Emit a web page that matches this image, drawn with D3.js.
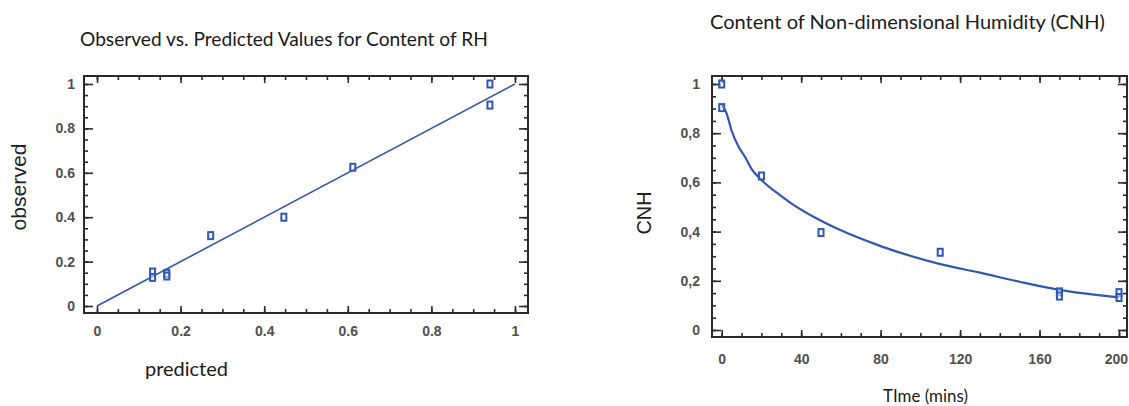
<!DOCTYPE html>
<html><head><meta charset="utf-8">
<script src="https://cdn.jsdelivr.net/npm/d3@7"></script>
<style>
html,body{margin:0;padding:0;background:#fff;}
svg{display:block;}
</style></head>
<body>
<svg id="c" width="1129" height="406"></svg>
<script>
// ---------- Left chart data: observed vs predicted ----------
const predicted = [0.94, 0.94, 0.612, 0.447, 0.272, 0.133, 0.133, 0.167, 0.167];
const observed  = [1.00, 0.905, 0.625, 0.40, 0.317, 0.153, 0.129, 0.147, 0.135];
const fitLineX = [0, 1];
const fitLineY = [0, 1];
const leftTicks = [0, 0.2, 0.4, 0.6, 0.8, 1];
const leftTickLabels = ["0", "0.2", "0.4", "0.6", "0.8", "1"];

// ---------- Right chart data: CNH vs time ----------
const timeObs = [0, 0, 20, 50, 110, 170, 170, 200, 200];
const cnhObs  = [1.00, 0.904, 0.626, 0.396, 0.316, 0.155, 0.138, 0.152, 0.132];
const curveT = [0, 2.5, 5, 8.5, 12, 15, 20, 29, 35, 50, 60, 80, 110, 130, 150, 170, 200];
const curveV = [0.915, 0.88, 0.81, 0.745, 0.70, 0.655, 0.61, 0.55, 0.515, 0.444, 0.405, 0.341, 0.268, 0.233, 0.196, 0.163, 0.133];
const rightXTicks = [0, 40, 80, 120, 160, 200];
const rightXTickLabels = ["0", "40", "80", "120", "160", "200"];
const rightYTicks = [0, 0.2, 0.4, 0.6, 0.8, 1];
const rightYTickLabels = ["0", "0,2", "0,4", "0,6", "0,8", "1"];

const W = 1129;
const svg = d3.select("#c");
const BLUE = "#2f57b3";
const FRAME = "#2a2a2a";
const TICKTXT = "#505050";
const TICKFONT = "'Liberation Sans Narrow', 'Arial Narrow', 'Liberation Sans', Arial, sans-serif";

function fitText(sel, target) {
  sel.attr("font-size", 100);
  const w = sel.node().getComputedTextLength();
  sel.attr("font-size", 100 * target / w);
}

function drawPanel(opt) {
  const g = svg.append("g");
  const x = d3.scaleLinear().domain(opt.xDom).range(opt.xRange);
  const y = d3.scaleLinear().domain(opt.yDom).range(opt.yRange);
  const [fx0, fx1, fy0, fy1] = opt.frame;

  const tickAxes = [
    {ax: d3.axisBottom(x).tickValues(opt.xMinor), tr: `translate(0,${fy1})`, size: -4},
    {ax: d3.axisTop(x).tickValues(opt.xMinor), tr: `translate(0,${fy0})`, size: -4},
    {ax: d3.axisLeft(y).tickValues(opt.yMinor), tr: `translate(${fx0},0)`, size: -4},
    {ax: d3.axisRight(y).tickValues(opt.yMinor), tr: `translate(${fx1},0)`, size: -4},
    {ax: d3.axisBottom(x).tickValues(opt.xTicks), tr: `translate(0,${fy1})`, size: -7},
    {ax: d3.axisTop(x).tickValues(opt.xTicks), tr: `translate(0,${fy0})`, size: -7},
    {ax: d3.axisLeft(y).tickValues(opt.yTicks), tr: `translate(${fx0},0)`, size: -9},
    {ax: d3.axisRight(y).tickValues(opt.yTicks), tr: `translate(${fx1},0)`, size: -9},
  ];
  tickAxes.forEach(m => {
    const a = g.append("g").attr("transform", m.tr)
      .call(m.ax.tickSize(m.size).tickFormat(""));
    a.select(".domain").remove();
    a.selectAll("line").attr("stroke", FRAME).attr("stroke-width", 1.6);
  });

  const xl = g.append("g").attr("transform", `translate(0,${opt.xLabelY})`)
    .call(d3.axisBottom(x).tickValues(opt.xTicks).tickSize(0)
      .tickFormat((d, i) => opt.xLabels[i]));
  xl.select(".domain").remove();
  xl.selectAll("text").attr("font-family", TICKFONT)
    .attr("font-size", 14).attr("fill", TICKTXT).attr("font-weight", "bold").attr("dy", 0).attr("y", 0);
  // keep labels inside the page: nudge any label that would cross the right edge
  xl.selectAll(".tick").each(function() {
    const t = d3.select(this).select("text");
    const w = t.node().getComputedTextLength();
    const tx = +d3.select(this).attr("transform").match(/translate\(([-\d.]+)/)[1];
    if (tx + w / 2 > W - 1) t.attr("x", (W - 1) - w / 2 - tx);
  });

  const yl = g.append("g").attr("transform", `translate(${opt.yLabelX},0)`)
    .call(d3.axisLeft(y).tickValues(opt.yTicks).tickSize(0)
      .tickFormat((d, i) => opt.yLabels[i]));
  yl.select(".domain").remove();
  yl.selectAll("text").attr("font-family", TICKFONT)
    .attr("font-size", 14).attr("fill", TICKTXT).attr("font-weight", "bold").attr("x", 0);

  g.append("rect").attr("x", fx0).attr("y", fy0)
    .attr("width", fx1 - fx0).attr("height", fy1 - fy0)
    .attr("fill", "none").attr("stroke", FRAME).attr("stroke-width", 2);

  return {g, x, y};
}

// ---------- Left panel ----------
const L = drawPanel({
  xDom: [0, 1], xRange: [97, 515],
  yDom: [0, 1], yRange: [306, 84],
  frame: [84, 528, 76, 313],
  xTicks: leftTicks, xLabels: leftTickLabels,
  yTicks: leftTicks, yLabels: leftTickLabels,
  xMinor: d3.range(0, 1.001, 0.05), yMinor: d3.range(0, 1.001, 0.05),
  xLabelY: 336, yLabelX: 75
});
L.g.append("path")
  .datum(fitLineX.map((v, i) => [v, fitLineY[i]]))
  .attr("d", d3.line().x(d => L.x(d[0])).y(d => L.y(d[1])))
  .attr("fill", "none").attr("stroke", BLUE).attr("stroke-width", 1.6);
L.g.selectAll("rect.pt").data(predicted.map((p, i) => [p, observed[i]]))
  .enter().append("rect").attr("class", "pt")
  .attr("x", d => L.x(d[0]) - 2.5).attr("y", d => L.y(d[1]) - 3.5)
  .attr("width", 5).attr("height", 7)
  .attr("fill", "#fff").attr("fill-opacity", 0.5)
  .attr("stroke", BLUE).attr("stroke-width", 2);

// ---------- Right panel ----------
const R = drawPanel({
  xDom: [0, 200], xRange: [721.7, 1119],
  yDom: [0, 1], yRange: [330, 84],
  frame: [712, 1127, 76, 337],
  xTicks: rightXTicks, xLabels: rightXTickLabels,
  yTicks: rightYTicks, yLabels: rightYTickLabels,
  xMinor: d3.range(0, 200.1, 10), yMinor: d3.range(0, 1.001, 0.05),
  xLabelY: 364, yLabelX: 700
});
R.g.append("path")
  .datum(curveT.map((t, i) => [t, curveV[i]]))
  .attr("d", d3.line().curve(d3.curveMonotoneX).x(d => R.x(d[0])).y(d => R.y(d[1])))
  .attr("fill", "none").attr("stroke", BLUE).attr("stroke-width", 2.2);
R.g.selectAll("rect.pt").data(timeObs.map((t, i) => [t, cnhObs[i]]))
  .enter().append("rect").attr("class", "pt")
  .attr("x", d => R.x(d[0]) - 2.5).attr("y", d => R.y(d[1]) - 3.5)
  .attr("width", 5).attr("height", 7)
  .attr("fill", "#fff").attr("fill-opacity", 0.5)
  .attr("stroke", BLUE).attr("stroke-width", 2);

// ---------- Titles and axis titles ----------
const calib = "Lato, 'Open Sans', sans-serif";
const t1 = svg.append("text").text("Observed vs. Predicted Values for Content of RH")
  .attr("x", 80).attr("y", 46).attr("font-family", calib).attr("fill", "#1a1a1a");
fitText(t1, 408);
const t2 = svg.append("text").text("Content of Non-dimensional Humidity (CNH)")
  .attr("x", 710).attr("y", 29).attr("font-family", calib).attr("fill", "#1a1a1a");
fitText(t2, 395);

const xt1 = svg.append("text").text("predicted")
  .attr("x", 145).attr("y", 376).attr("font-family", calib).attr("fill", "#1a1a1a");
fitText(xt1, 83);
const xt2 = svg.append("text").text("TIme (mins)")
  .attr("x", 883).attr("y", 402).attr("font-family", calib).attr("fill", "#1a1a1a");
fitText(xt2, 85);

const yt1 = svg.append("text").text("observed")
  .attr("transform", "translate(26,187) rotate(-90)").attr("text-anchor", "middle")
  .attr("font-family", "Liberation Sans, Arial, sans-serif").attr("fill", "#222");
fitText(yt1, 87);
const yt2 = svg.append("text").text("CNH")
  .attr("transform", "translate(651,213) rotate(-90)").attr("text-anchor", "middle")
  .attr("font-family", "Liberation Sans, Arial, sans-serif").attr("fill", "#222");
fitText(yt2, 43);
</script>
</body></html>
